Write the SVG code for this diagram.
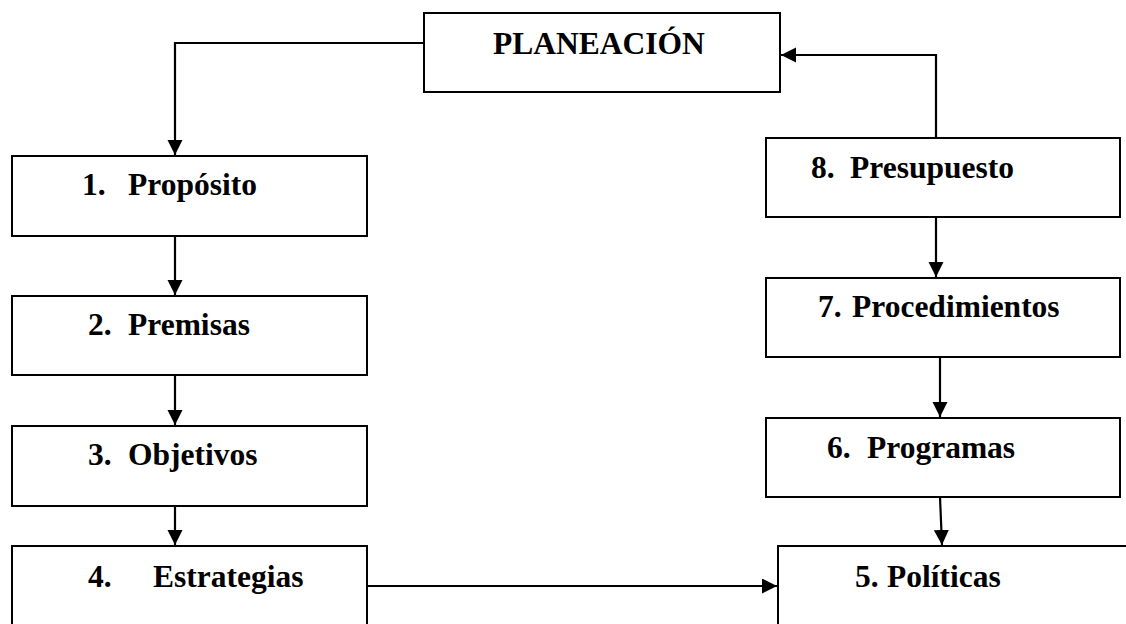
<svg xmlns="http://www.w3.org/2000/svg" width="1126" height="624" viewBox="0 0 1126 624">
<style>
.box{fill:#fff;stroke:#000;stroke-width:2}
.lbl{font-family:"Liberation Serif","Times New Roman",serif;font-weight:bold;font-size:31.5px;fill:#000}
.con{fill:none;stroke:#000;stroke-width:2.2}
</style>
<defs>
<marker id="ah" markerWidth="16" markerHeight="16" refX="15" refY="7.5" orient="auto" markerUnits="userSpaceOnUse">
<path d="M0,0 L15,7.5 L0,15 Z" fill="#000"/>
</marker>
</defs>
<rect width="1126" height="624" fill="#fff"/>
<g id="planeacion"><rect class="box" x="424" y="13" width="356" height="79"/><text class="lbl" x="493" y="54">PLANEACIÓN</text></g>
<g id="n1"><rect class="box" x="12" y="156" width="355" height="80"/><text class="lbl" y="195"><tspan x="82">1.</tspan><tspan x="128">Propósito</tspan></text></g>
<g id="n2"><rect class="box" x="12" y="296" width="355" height="79"/><text class="lbl" y="335"><tspan x="88">2.</tspan><tspan x="128">Premisas</tspan></text></g>
<g id="n3"><rect class="box" x="12" y="426" width="355" height="80"/><text class="lbl" y="465"><tspan x="88">3.</tspan><tspan x="128">Objetivos</tspan></text></g>
<g id="n4"><rect class="box" x="12" y="546" width="355" height="90"/><text class="lbl" y="587"><tspan x="88">4.</tspan><tspan x="153">Estrategias</tspan></text></g>
<g id="n8"><rect class="box" x="766" y="138" width="354" height="79"/><text class="lbl" y="178"><tspan x="811">8.</tspan><tspan x="850">Presupuesto</tspan></text></g>
<g id="n7"><rect class="box" x="766" y="278" width="354" height="79"/><text class="lbl" y="317"><tspan x="818">7.</tspan><tspan x="852">Procedimientos</tspan></text></g>
<g id="n6"><rect class="box" x="766" y="418" width="354" height="79"/><text class="lbl" y="458"><tspan x="827">6.</tspan><tspan x="867">Programas</tspan></text></g>
<g id="n5"><rect class="box" x="778" y="546" width="360" height="90"/><text class="lbl" y="587"><tspan x="855">5.</tspan><tspan x="887">Políticas</tspan></text></g>
<g id="connectors">
<path class="con" d="M424,43 H175 V155" marker-end="url(#ah)"/>
<path class="con" d="M936,138 V55 H781" marker-end="url(#ah)"/>
<path class="con" d="M175,236 V295" marker-end="url(#ah)"/>
<path class="con" d="M175,375 V425" marker-end="url(#ah)"/>
<path class="con" d="M175,506 V545" marker-end="url(#ah)"/>
<path class="con" d="M936,217 V277" marker-end="url(#ah)"/>
<path class="con" d="M940,357 V417" marker-end="url(#ah)"/>
<path class="con" d="M940,497 L942,545" marker-end="url(#ah)"/>
<path class="con" d="M367,586 H777" marker-end="url(#ah)"/>
</g>
</svg>
